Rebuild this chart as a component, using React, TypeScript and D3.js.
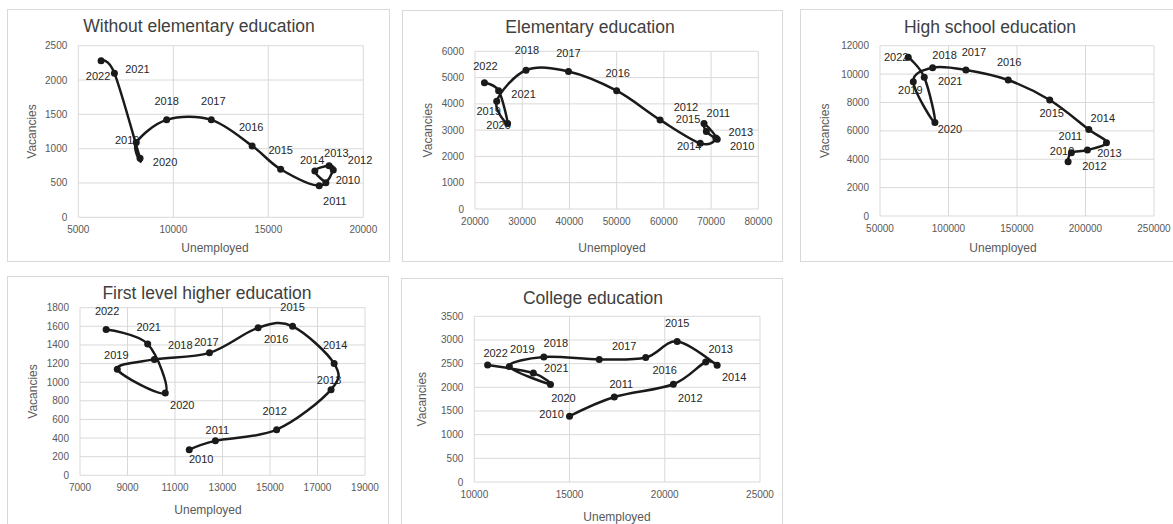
import React from "react";
import * as d3 from "d3";

const years = [2010, 2011, 2012, 2013, 2014, 2015, 2016, 2017, 2018, 2019, 2020, 2021, 2022];

// Without elementary education
const p1Unemployed = [18030, 17450, 18200, 18420, 17680, 15650, 14150, 12000, 9650, 8050, 8250, 6900, 6200];
const p1Vacancies = [505, 675, 750, 690, 460, 700, 1040, 1420, 1420, 1090, 860, 2100, 2280];
const p1XTicks = [5000, 10000, 15000, 20000];
const p1YTicks = [0, 500, 1000, 1500, 2000, 2500];

// Elementary education
const p2Unemployed = [71300, 69000, 68500, 71000, 67700, 59200, 50000, 39800, 30800, 24600, 26900, 25000, 22000];
const p2Vacancies = [2650, 2950, 3250, 2700, 2500, 3390, 4500, 5230, 5280, 4100, 3250, 4500, 4800];
const p2XTicks = [20000, 30000, 40000, 50000, 60000, 70000, 80000];
const p2YTicks = [0, 1000, 2000, 3000, 4000, 5000, 6000];

// High school education
const p3Unemployed = [187300, 189700, 201400, 215300, 202400, 173900, 143600, 112700, 88400, 74300, 90100, 82300, 70600];
const p3Vacancies = [3830, 4460, 4650, 5170, 6100, 8170, 9580, 10290, 10450, 9460, 6580, 9770, 11180];
const p3XTicks = [50000, 100000, 150000, 200000, 250000];
const p3YTicks = [0, 2000, 4000, 6000, 8000, 10000, 12000];

// First level higher education
const p4Unemployed = [11600, 12700, 15280, 17570, 17700, 15950, 14500, 12450, 10130, 8570, 10590, 9850, 8100];
const p4Vacancies = [275, 370, 490, 920, 1200, 1600, 1585, 1315, 1245, 1140, 885, 1410, 1565];
const p4XTicks = [7000, 9000, 11000, 13000, 15000, 17000, 19000];
const p4YTicks = [0, 200, 400, 600, 800, 1000, 1200, 1400, 1600, 1800];

// College education
const p5Unemployed = [15000, 17350, 20450, 22150, 22750, 20650, 19000, 16560, 13650, 11840, 14000, 13100, 10700];
const p5Vacancies = [1390, 1795, 2065, 2535, 2465, 2970, 2630, 2590, 2640, 2440, 2060, 2300, 2470];
const p5XTicks = [10000, 15000, 20000, 25000];
const p5YTicks = [0, 500, 1000, 1500, 2000, 2500, 3000, 3500];

const titles = [
  "Without elementary education",
  "Elementary education",
  "High school education",
  "First level higher education",
  "College education",
];

// label offsets (dx, dy) from the point, per year order
const labelOffsets = [
  [[22, -2], [20, 30], [31, -6], [3, -17], [-7, -26], [0, -19], [-1, -19], [2, -19], [0, -19], [-9, -2], [25, 4], [23, -4], [-3, 15]],
  [[25, 7], [12, -18], [-18, -16], [25, -6], [-11, 3], [28, -1], [1, -18], [0, -18], [1, -20], [-8, 10], [-9, 2], [25, 3], [1, -17]],
  [[-6, -10], [-1, -17], [7, 16], [3, 11], [14, -11], [2, 13], [1, -18], [8, -18], [12, -13], [-3, 8], [15, 7], [26, 4], [-12, 0]],
  [[12, 9], [2, -11], [-2, -19], [-2, -9], [1, -18], [0, -19], [18, 11], [-3, -11], [26, -14], [-1, -14], [17, 12], [1, -17], [1, -18]],
  [[-18, -2], [7, -13], [17, 14], [15, -13], [17, 12], [0, -18], [19, 13], [25, -13], [12, -14], [13, -17], [13, 14], [23, -5], [8, -12]],
];

const layouts = [
  { box: [7, 9, 382, 252], plot: [78.3, 363.3, 45.7, 217.3], titleX: 199, titleY: 32, yTitleX: 32, xTitleX: 215, xTitleY: 252 },
  { box: [402, 10, 380, 251], plot: [475, 758.3, 51.3, 209], titleX: 590, titleY: 33, yTitleX: 428, xTitleX: 612, xTitleY: 252 },
  { box: [800, 9, 385, 252], plot: [880, 1154, 45.7, 216], titleX: 990, titleY: 33, yTitleX: 825, xTitleX: 1003, xTitleY: 252 },
  { box: [7, 276, 381, 250], plot: [80, 365, 307.7, 475.3], titleX: 207, titleY: 299, yTitleX: 33, xTitleX: 208, xTitleY: 514 },
  { box: [401, 278, 381, 250], plot: [474.3, 760, 316.3, 482], titleX: 593, titleY: 304, yTitleX: 422, xTitleX: 617, xTitleY: 521 },
];

const panelData = [
  { u: p1Unemployed, v: p1Vacancies, xt: p1XTicks, yt: p1YTicks },
  { u: p2Unemployed, v: p2Vacancies, xt: p2XTicks, yt: p2YTicks },
  { u: p3Unemployed, v: p3Vacancies, xt: p3XTicks, yt: p3YTicks },
  { u: p4Unemployed, v: p4Vacancies, xt: p4XTicks, yt: p4YTicks },
  { u: p5Unemployed, v: p5Vacancies, xt: p5XTicks, yt: p5YTicks },
];

const FONT = "'Liberation Sans', Arial, sans-serif";

function Panel({ idx }: { idx: number }) {
  const L = layouts[idx];
  const D = panelData[idx];
  const [bx, by, bw, bh] = L.box;
  const [px0, px1, py0, py1] = L.plot;
  const x = d3.scaleLinear().domain([D.xt[0], D.xt[D.xt.length - 1]]).range([px0, px1]);
  const y = d3.scaleLinear().domain([D.yt[0], D.yt[D.yt.length - 1]]).range([py1, py0]);
  const pts: [number, number][] = years.map((_, i) => [x(D.u[i]), y(D.v[i])]);
  const line = d3.line().curve(d3.curveCardinal.tension(0))(pts) || "";
  return (
    <g>
      <rect x={bx + 0.5} y={by + 0.5} width={bw} height={bh} fill="#fff" stroke="#d9d9d9" strokeWidth={1} />
      {D.xt.map((t) => (
        <line key={"gx" + t} x1={x(t)} x2={x(t)} y1={py0} y2={py1} stroke="#d9d9d9" strokeWidth={1} />
      ))}
      {D.yt.map((t) => (
        <line key={"gy" + t} x1={px0} x2={px1} y1={y(t)} y2={y(t)} stroke="#d9d9d9" strokeWidth={1} />
      ))}
      {D.xt.map((t) => (
        <text key={"tx" + t} x={x(t)} y={py1 + 16} textAnchor="middle" fontSize={10} fill="#595959" fontFamily={FONT}>
          {t}
        </text>
      ))}
      {D.yt.map((t) => (
        <text key={"ty" + t} x={px0 - 11} y={y(t)} dy="0.35em" textAnchor="end" fontSize={10} fill="#595959" fontFamily={FONT}>
          {t}
        </text>
      ))}
      <text x={L.titleX} y={L.titleY} textAnchor="middle" fontSize={17.5} fill="#404040" fontFamily={FONT}>
        {titles[idx]}
      </text>
      <text x={L.xTitleX} y={L.xTitleY} textAnchor="middle" fontSize={12} fill="#595959" fontFamily={FONT}>
        Unemployed
      </text>
      <text
        transform={`translate(${L.yTitleX},${(py0 + py1) / 2}) rotate(-90)`}
        dy="0.35em"
        textAnchor="middle"
        fontSize={12}
        fill="#595959"
        fontFamily={FONT}
      >
        Vacancies
      </text>
      {years.map((yr, i) => (
        <text
          key={"l" + yr}
          x={pts[i][0] + labelOffsets[idx][i][0]}
          y={pts[i][1] + labelOffsets[idx][i][1]}
          dy="0.35em"
          textAnchor="middle"
          fontSize={11}
          fill="#262626"
          fontFamily={FONT}
        >
          {yr}
        </text>
      ))}
      <path d={line} fill="none" stroke="#1a1a1a" strokeWidth={2.5} strokeLinejoin="round" />
      {pts.map((p, i) => (
        <circle key={"c" + i} cx={p[0]} cy={p[1]} r={3.5} fill="#1a1a1a" />
      ))}
    </g>
  );
}

export default function App() {
  return (
    <svg
      width={1173}
      height={524}
      style={{ position: "absolute", left: 0, top: 0, background: "#fff" }}
    >
      <rect x={0} y={0} width={1173} height={524} fill="#fff" />
      {layouts.map((_, i) => (
        <Panel key={i} idx={i} />
      ))}
    </svg>
  );
}
